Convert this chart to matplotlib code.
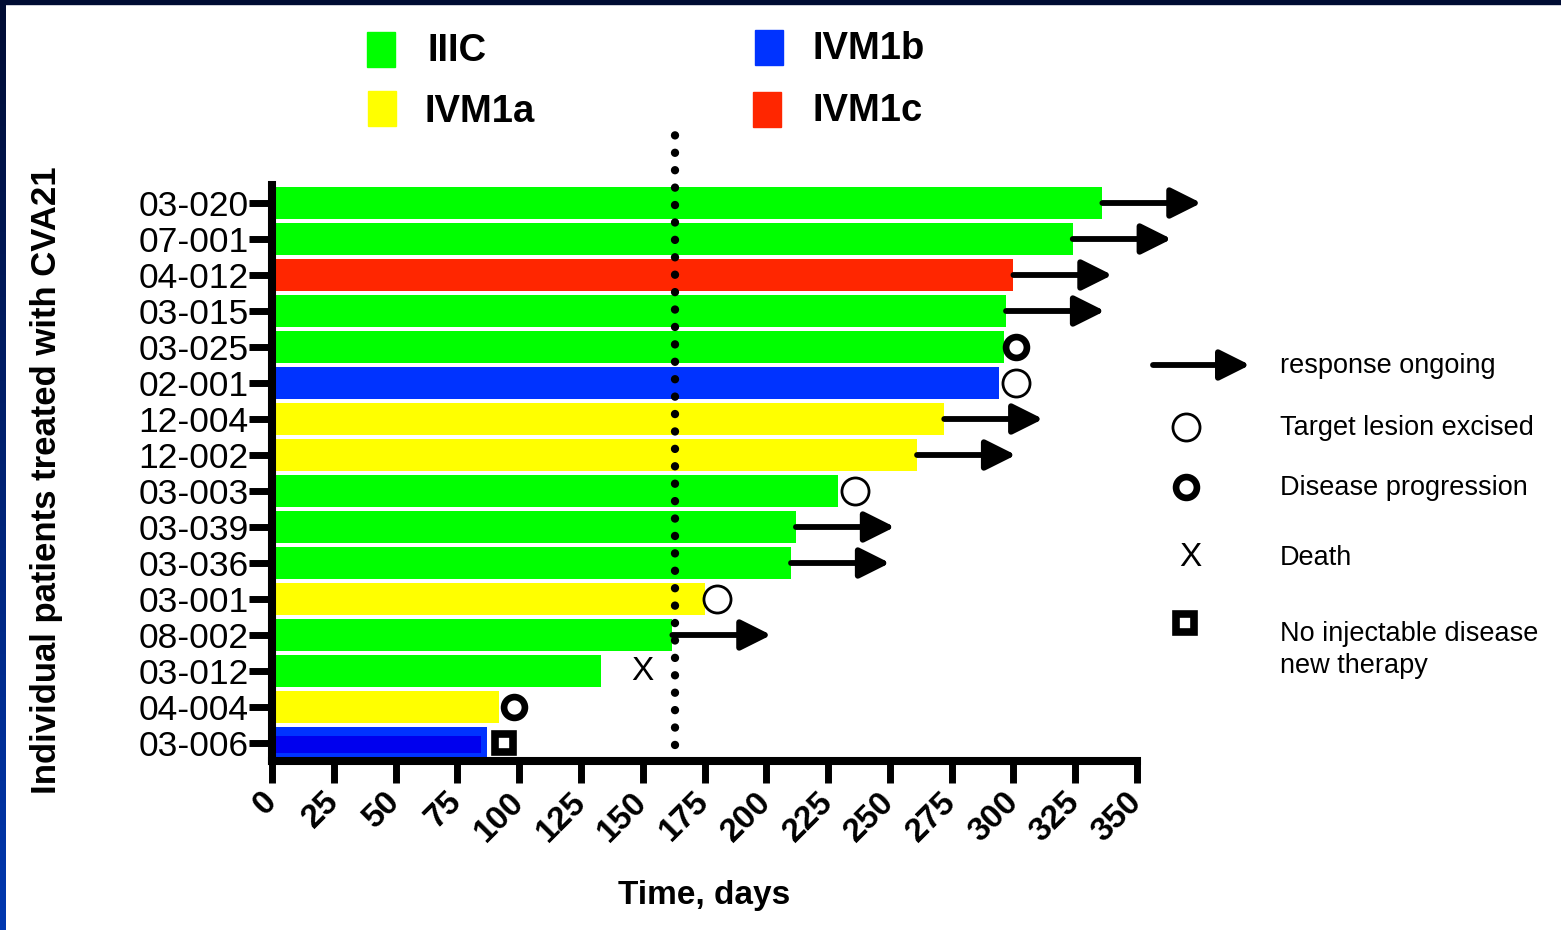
import matplotlib
matplotlib.use("Agg")
import matplotlib.pyplot as plt
import numpy as np

plt.rcParams['font.family'] = ['Liberation Sans', 'DejaVu Sans']

# patients, top to bottom
patients = ['03-020', '07-001', '04-012', '03-015', '03-025', '02-001', '12-004', '12-002',
            '03-003', '03-039', '03-036', '03-001', '08-002', '03-012', '04-004', '03-006']
stage = ['IIIC', 'IIIC', 'IVM1c', 'IIIC', 'IIIC', 'IVM1b', 'IVM1a', 'IVM1a',
         'IIIC', 'IIIC', 'IIIC', 'IVM1a', 'IIIC', 'IIIC', 'IVM1a', 'IVM1b']
days = [336, 324, 300, 297, 296, 294, 272, 261, 229, 212, 210, 175, 162, 133, 92, 87]

# events
ongoing = ['03-020', '07-001', '04-012', '03-015', '12-004', '12-002', '03-039', '03-036', '08-002']
arrow_len = 40
excised = {'02-001': 301, '03-003': 236, '03-001': 180}
progression = {'03-025': 301, '04-004': 98}
death = {'03-012': 150}
no_injectable = {'03-006': 94}
inner_bar = {'03-006': 83}   # darker inner strip on that bar
dotted_day = 163

stage_colors = {'IIIC': '#00ff00', 'IVM1a': '#ffff00', 'IVM1b': '#0033ff', 'IVM1c': '#ff2600'}

fig = plt.figure(figsize=(15.61, 9.30), dpi=100)
W, H = 1561, 930
ax = fig.add_axes([272 / W, 1 - 761 / H, (1137 - 272) / W, (761 - 185) / H])

n = len(patients)
ypos = np.arange(n)[::-1]
ymap = dict(zip(patients, ypos))

ax.barh(ypos, days, height=0.88, color=[stage_colors[s] for s in stage], zorder=2)
for p, v in inner_bar.items():
    ax.barh(ymap[p] - 0.04, v, left=1.5, height=0.48, color='#0000ee', zorder=2.5)

arrow_props = dict(arrowstyle='-|>', lw=4.2, color='black', mutation_scale=46,
                   shrinkA=0, shrinkB=0, capstyle='round')

# response ongoing arrows
for p in ongoing:
    v = days[patients.index(p)]
    y = ymap[p]
    ax.annotate('', xy=(v + arrow_len, y), xytext=(v, y), annotation_clip=False,
                arrowprops=arrow_props, zorder=4)

for p, v in excised.items():
    ax.plot(v, ymap[p], 'o', ms=19.5, mfc='white', mec='black', mew=2.0, zorder=5, clip_on=False)
for p, v in progression.items():
    ax.plot(v, ymap[p], 'o', ms=15, mfc='white', mec='black', mew=4.8, zorder=5, clip_on=False)
for p, v in death.items():
    ax.text(v, ymap[p], 'X', fontsize=24, ha='center', va='center', zorder=5)
for p, v in no_injectable.items():
    ax.plot(v, ymap[p], 's', ms=13, mfc='white', mec='black', mew=5.5, zorder=5, clip_on=False)

# dotted vertical line
ax.plot([dotted_day, dotted_day], [-0.06, 16.9], color='black', lw=6.0,
        linestyle=(0, (0.01, 2.08)), dash_capstyle='round', clip_on=False, zorder=6)

ax.set_xlim(0, 350)
ax.set_ylim(-0.5, 15.5)
ax.set_yticks(ypos)
ax.set_yticklabels(patients, fontsize=25.5)
ax.set_xticks(np.arange(0, 351, 25))
ax.set_xticklabels([str(t) for t in range(0, 351, 25)], fontsize=24, fontweight='bold',
                   rotation=45, ha='right', va='center', rotation_mode='anchor')
ax.tick_params(axis='y', length=16.5, width=5, pad=0.5)
ax.tick_params(axis='x', length=16, width=5, pad=10)
for s in ['top', 'right']:
    ax.spines[s].set_visible(False)
for s in ['left', 'bottom']:
    ax.spines[s].set_linewidth(5.8)
    ax.spines[s].set_capstyle('projecting')

ax.set_xlabel('Time, days', fontsize=24, fontweight='bold', labelpad=23)
fig.text(47 / W, 1 - 480 / H, 'Individual patients treated with CVA21', rotation=90,
         fontsize=25, fontweight='bold', ha='center', va='center')

# overlay for legends and frame
ov2 = fig.add_axes([0, 0, 1, 1], zorder=10)
ov2.set_xlim(0, W)
ov2.set_ylim(H, 0)
ov2.axis('off')
ov2.patch.set_alpha(0)

# top legend
legend_items = [('IIIC', 367, 32, 428, 51), ('IVM1a', 368, 91, 425, 112),
                ('IVM1b', 755, 30, 813, 49), ('IVM1c', 753, 92, 813, 111)]
for name, sx, sy, tx, ty in legend_items:
    ov2.add_patch(plt.Rectangle((sx, sy), 28, 35, color=stage_colors[name]))
    ov2.text(tx, ty, name, fontsize=27.5, fontweight='bold', ha='left', va='center')

# right legend
ov2.annotate('', xy=(1250, 365), xytext=(1153, 365), arrowprops=arrow_props)
ov2.plot(1186, 427, 'o', ms=19.5, mfc='white', mec='black', mew=2.0)
ov2.plot(1186, 487, 'o', ms=15, mfc='white', mec='black', mew=4.8)
ov2.text(1190, 557, 'X', fontsize=24, ha='center', va='center')
ov2.plot(1185, 623, 's', ms=13, mfc='white', mec='black', mew=5.5)
for txt, y in [('response ongoing', 366), ('Target lesion excised', 428),
               ('Disease progression', 488), ('Death', 558),
               ('No injectable disease\nnew therapy', 650)]:
    ov2.text(1280, y, txt, fontsize=19.5, ha='left', va='center', linespacing=1.3)

# dark frame at top and left edge
ov2.add_patch(plt.Rectangle((0, 0), W, 4, color='#000c33'))
grad = np.linspace(0, 1, 256)[:, None]
cmap = matplotlib.colors.LinearSegmentedColormap.from_list('edge', ['#000c33', '#0038b0'])
ov2.imshow(grad, cmap=cmap, extent=(0, 6, H, 0), aspect='auto')
ov2.set_xlim(0, W)
ov2.set_ylim(H, 0)

fig.savefig('out.png', dpi=100)
